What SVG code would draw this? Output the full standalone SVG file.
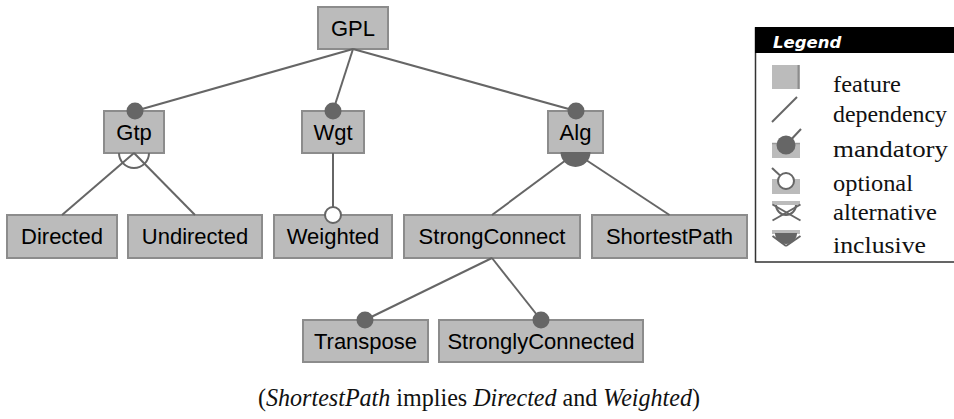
<svg xmlns="http://www.w3.org/2000/svg" width="954" height="419" viewBox="0 0 954 419">
  <style>
    .box { fill: #bbbbbb; stroke: #8c8c8c; stroke-width: 2; }
    .lbl { font-family: "Liberation Sans", Arial, sans-serif; font-size: 22px; fill: #000; text-anchor: middle; }
    .edge { stroke: #666666; stroke-width: 2; fill: none; }
    .mand { fill: #666666; }
    .opt { fill: #ffffff; stroke: #666666; stroke-width: 2; }
    .leg { font-family: "Liberation Serif", "Times New Roman", serif; font-size: 23.5px; fill: #111; }
    .cap { font-family: "Liberation Serif", "Times New Roman", serif; font-size: 24.5px; fill: #111; }
  </style>
  <rect width="954" height="419" fill="#ffffff"/>

  <!-- features -->
  <g id="GPL"><rect class="box" x="318" y="7" width="70" height="42"/><text class="lbl" x="353" y="36">GPL</text></g>
  <g id="Gtp"><rect class="box" x="104" y="111" width="60" height="42"/><text class="lbl" x="134" y="140">Gtp</text></g>
  <g id="Wgt"><rect class="box" x="302" y="111" width="62" height="42"/><text class="lbl" x="333" y="140">Wgt</text></g>
  <g id="Alg"><rect class="box" x="548" y="111" width="55" height="42"/><text class="lbl" x="575.5" y="140">Alg</text></g>
  <g id="Directed"><rect class="box" x="7" y="215" width="110" height="43"/><text class="lbl" x="62" y="244">Directed</text></g>
  <g id="Undirected"><rect class="box" x="128" y="215" width="134" height="43"/><text class="lbl" x="195" y="244">Undirected</text></g>
  <g id="Weighted"><rect class="box" x="274" y="215" width="118" height="43"/><text class="lbl" x="333" y="244">Weighted</text></g>
  <g id="StrongConnect"><rect class="box" x="404" y="215" width="176" height="43"/><text class="lbl" x="492" y="244">StrongConnect</text></g>
  <g id="ShortestPath"><rect class="box" x="592" y="215" width="155" height="43"/><text class="lbl" x="669.5" y="244">ShortestPath</text></g>
  <g id="Transpose"><rect class="box" x="303" y="320" width="125" height="42"/><text class="lbl" x="365.5" y="349">Transpose</text></g>
  <g id="StronglyConnected"><rect class="box" x="439" y="320" width="204" height="42"/><text class="lbl" x="541" y="349">StronglyConnected</text></g>

  <!-- relations -->
  <g id="connectors">
    <line class="edge" x1="353" y1="49" x2="135" y2="111"/>
    <line class="edge" x1="353" y1="49" x2="333" y2="111"/>
    <line class="edge" x1="353" y1="49" x2="576" y2="111"/>
    <circle class="mand" cx="135" cy="111" r="8.5"/>
    <circle class="mand" cx="333" cy="111" r="8.5"/>
    <circle class="mand" cx="576" cy="111" r="8.5"/>

    <!-- alternative group under Gtp -->
    <path class="edge" d="M119 153 A15 15 0 0 0 149 153"/>
    <line class="edge" x1="134" y1="153" x2="62" y2="215"/>
    <line class="edge" x1="134" y1="153" x2="195" y2="215"/>

    <!-- optional Weighted -->
    <line class="edge" x1="333" y1="153" x2="333" y2="215"/>
    <circle class="opt" cx="333" cy="215" r="8"/>

    <!-- inclusive group under Alg -->
    <line class="edge" x1="575.5" y1="153" x2="492" y2="215"/>
    <line class="edge" x1="575.5" y1="153" x2="669.5" y2="215"/>
    <path class="mand" d="M560.5 152 A15 15 0 0 0 590.5 152 Z"/>

    <!-- StrongConnect children -->
    <line class="edge" x1="492" y1="258" x2="365" y2="320"/>
    <line class="edge" x1="492" y1="258" x2="541" y2="320"/>
    <circle class="mand" cx="365" cy="320" r="8.5"/>
    <circle class="mand" cx="541" cy="320" r="8.5"/>
  </g>

  <!-- legend -->
  <g id="legend">
    <rect x="755.5" y="28" width="210" height="234" fill="#ffffff" stroke="#333333" stroke-width="1.5"/>
    <rect x="755" y="27" width="199" height="26" fill="#000000"/>
    <text x="773" y="48" font-family="'DejaVu Sans', Verdana, sans-serif" font-size="16.5px" font-weight="bold" font-style="italic" fill="#ffffff">Legend</text>

    <rect x="772" y="65" width="28" height="24" fill="#bbbbbb"/>
    <line x1="798.5" y1="65" x2="798.5" y2="89" stroke="#8c8c8c" stroke-width="2"/>

    <line class="edge" x1="772" y1="122" x2="797" y2="97"/>

    <rect x="772" y="143" width="28" height="15" fill="#bbbbbb"/>
    <line x1="772" y1="143.5" x2="800" y2="143.5" stroke="#999999" stroke-width="1.5"/>
    <line class="edge" x1="786" y1="145" x2="801" y2="129"/>
    <circle class="mand" cx="786" cy="145" r="9.5"/>

    <rect x="772" y="179" width="28" height="15" fill="#bbbbbb"/>
    <line class="edge" x1="772" y1="168" x2="786" y2="181"/>
    <circle class="opt" cx="786" cy="181" r="8"/>

    <rect x="772" y="201" width="28" height="4" fill="#bbbbbb"/>
    <path class="edge" d="M776 205 A10 10 0 0 0 796 205"/>
    <line class="edge" x1="772.5" y1="204.5" x2="800.5" y2="220.5" stroke-width="1.5"/>
    <line class="edge" x1="800.5" y1="204.5" x2="772.5" y2="220.5" stroke-width="1.5"/>

    <rect x="772" y="230" width="28" height="4" fill="#bbbbbb"/>
    <line class="edge" x1="772.5" y1="236" x2="786" y2="246" stroke-width="1.5"/>
    <line class="edge" x1="800.5" y1="236" x2="786" y2="246" stroke-width="1.5"/>
    <path class="mand" d="M775 233 A11 11 0 0 0 797 233 Z"/>

    <text class="leg" x="833" y="92" textLength="68" lengthAdjust="spacingAndGlyphs">feature</text>
    <text class="leg" x="833" y="122" textLength="114" lengthAdjust="spacingAndGlyphs">dependency</text>
    <text class="leg" x="833" y="157" textLength="115" lengthAdjust="spacingAndGlyphs">mandatory</text>
    <text class="leg" x="833" y="191" textLength="80" lengthAdjust="spacingAndGlyphs">optional</text>
    <text class="leg" x="833" y="220" textLength="104" lengthAdjust="spacingAndGlyphs">alternative</text>
    <text class="leg" x="833" y="253" textLength="93" lengthAdjust="spacingAndGlyphs">inclusive</text>
  </g>

  <!-- constraint -->
  <text class="cap" x="479" y="406" text-anchor="middle" textLength="442" lengthAdjust="spacingAndGlyphs">(<tspan font-style="italic">ShortestPath</tspan> implies <tspan font-style="italic">Directed</tspan> and <tspan font-style="italic">Weighted</tspan>)</text>
</svg>
